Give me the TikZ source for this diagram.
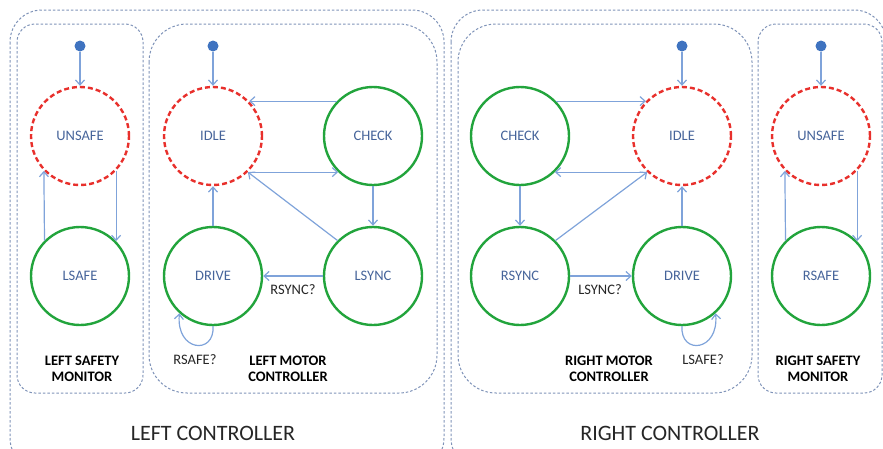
\documentclass[tikz,border=0pt]{standalone}
\usepackage{fontspec}
\setmainfont{Carlito}
\usetikzlibrary{arrows.meta}
\definecolor{stgreen}{HTML}{22A43C}
\definecolor{stred}{HTML}{E8302C}
\definecolor{stText}{HTML}{46649A}
\definecolor{arrblue}{HTML}{7FA3DA}
\definecolor{dotblue}{HTML}{3F73C0}
\definecolor{boxline}{HTML}{7F93B8}
\definecolor{lbl}{HTML}{262626}
\tikzset{
  state/.style={circle, draw=stgreen, line width=2.4pt, minimum size=98pt, inner sep=0pt,
    text=stText, font=\fontsize{14.5}{16}\selectfont},
  startstate/.style={state, draw=stred, dash pattern=on 5pt off 3pt},
  initdot/.style={circle, fill=dotblue, minimum size=11pt, inner sep=0pt},
  trans/.style={draw=arrblue, line width=1.2pt, -{Straight Barb[length=5pt,width=9pt]}},
  region/.style={draw=boxline, line width=1pt, dash pattern=on 2.5pt off 2pt},
  guard/.style={text=lbl, font=\fontsize{14.5}{16}\selectfont},
  title/.style={text=black, font=\fontsize{14.5}{16.5}\bfseries\selectfont, align=center},
  bigtitle/.style={text=lbl, font=\fontsize{22}{26}\selectfont}
}
\begin{document}
\begin{tikzpicture}[x=1pt,y=-1pt]
\useasboundingbox (0,0) rectangle (883,448);
\clip (0,0) rectangle (883,448);

% grouping regions
\draw[region, rounded corners=32pt] (10,10) rectangle (444,470);
\draw[region, rounded corners=32pt] (451,10) rectangle (886,470);
\draw[region, rounded corners=18pt] (17,24) rectangle (143,393);
\draw[region, rounded corners=38pt] (149,24) rectangle (437,393);
\draw[region, rounded corners=38pt] (458,24) rectangle (752,393);
\draw[region, rounded corners=18pt] (758,24) rectangle (882,393);

% left safety monitor
\node[initdot] (lsm0) at (80,46) {};
\node[startstate] (lunsafe) at (80,136) {UNSAFE};
\node[state] (lsafe) at (80,276) {LSAFE};
\draw[trans] (lsm0) -- (lunsafe.north);
\draw[trans] (lsafe.135.6) -- (lunsafe.224.4);
\draw[trans] (lunsafe.-44.4) -- (lsafe.44.4);
\node[title] (lsmt) at (82,369) {LEFT SAFETY\\MONITOR};

% left motor controller
\node[initdot] (lmc0) at (213,46) {};
\node[startstate] (lidle) at (213,136) {IDLE};
\node[state] (lcheck) at (373,136) {CHECK};
\node[state] (ldrive) at (213,276) {DRIVE};
\node[state] (lsync) at (373,276) {LSYNC};
\draw[trans] (lmc0) -- (lidle.north);
\draw[trans] (lcheck.136) -- (lidle.44);
\draw[trans] (lidle.-46) -- (lcheck.-134);
\draw[trans] (lsync.135) -- (lidle.-46);
\draw[trans] (lcheck.south) -- (lsync.north);
\draw[trans] (lsync.west) -- (ldrive.east);
\draw[trans] (ldrive.north) -- (lidle.south);
\draw[trans] (ldrive.south) .. controls (215,355) and (176,352) .. (ldrive.228);
\node[guard] (lg1) at (293,290) {RSYNC?};
\node[guard] (lg2) at (195,360) {RSAFE?};
\node[title] (lmct) at (288,369) {LEFT MOTOR\\CONTROLLER};
\node[bigtitle] (lct) at (213,433) {LEFT CONTROLLER};

% right motor controller
\node[initdot] (rmc0) at (682,46) {};
\node[startstate] (ridle) at (682,136) {IDLE};
\node[state] (rcheck) at (520,136) {CHECK};
\node[state] (rdrive) at (682,276) {DRIVE};
\node[state] (rsync) at (520,276) {RSYNC};
\draw[trans] (rmc0) -- (ridle.north);
\draw[trans] (rcheck.44) -- (ridle.136);
\draw[trans] (ridle.226) -- (rcheck.-46);
\draw[trans] (rsync.45) -- (ridle.226);
\draw[trans] (rcheck.south) -- (rsync.north);
\draw[trans] (rsync.east) -- (rdrive.west);
\draw[trans] (rdrive.north) -- (ridle.south);
\draw[trans] (rdrive.south) .. controls (680,355) and (719,352) .. (rdrive.-48);
\node[guard] (rg1) at (600,290) {LSYNC?};
\node[guard] (rg2) at (703,360) {LSAFE?};
\node[title] (rmct) at (609,369) {RIGHT MOTOR\\CONTROLLER};
\node[bigtitle] (rct) at (670,433) {RIGHT CONTROLLER};

% right safety monitor
\node[initdot] (rsm0) at (821,46) {};
\node[startstate] (runsafe) at (821,136) {UNSAFE};
\node[state] (rsafe) at (821,276) {RSAFE};
\draw[trans] (rsm0) -- (runsafe.north);
\draw[trans] (rsafe.135.6) -- (runsafe.224.4);
\draw[trans] (runsafe.-44.4) -- (rsafe.44.4);
\node[title] (rsmt) at (818,369) {RIGHT SAFETY\\MONITOR};
\end{tikzpicture}
\end{document}
